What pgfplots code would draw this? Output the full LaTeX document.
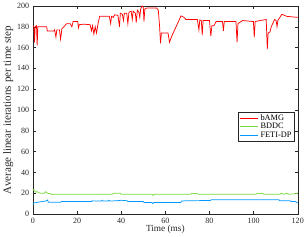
\documentclass[border=0pt]{standalone}
\usepackage{fontspec}
\setmainfont{Liberation Serif}
\usepackage{pgfplots}
\pgfplotsset{compat=1.18}
\definecolor{cred}{rgb}{1,0,0}
\definecolor{cgreen}{rgb}{0.47,0.86,0.22}
\definecolor{cblue}{rgb}{0.0,0.6,1.0}
\definecolor{axgray}{rgb}{0.15,0.15,0.15}
\begin{document}
\begin{tikzpicture}
\begin{axis}[
  scale only axis,
  width=271bp, height=213bp,
  xmin=0, xmax=120, ymin=0, ymax=200,
  xtick={0,20,...,120}, ytick={0,20,...,200},
  tick align=inside,
  major tick length=3bp,
  axis line style={axgray, line width=0.4pt},
  every tick/.style={axgray, line width=0.4pt},
  tick label style={font=\fontsize{8.2bp}{9bp}\selectfont, text=axgray},
  xticklabel style={yshift=-0.5bp},
  yticklabel style={xshift=-0.5bp},
  /pgf/number format/assume math mode=true,
  xlabel={Time (ms)},
  ylabel={Average linear iterations per time step},
  xlabel style={font=\fontsize{9.5bp}{10bp}\selectfont, text=axgray, yshift=5bp},
  ylabel style={font=\fontsize{11.3bp}{12bp}\selectfont, text=axgray, yshift=-3bp},
  legend style={at={(0.988,0.492)}, anchor=north east, draw=axgray, line width=0.4pt,
    font=\fontsize{8.5bp}{9bp}\selectfont, inner sep=1pt, row sep=-2.6pt},
  legend cell align=left,
  legend image code/.code={\draw[#1] (0bp,0bp) -- (19bp,0bp);},
]
\addplot[cred, line width=0.75pt] coordinates {
(0,181) (0.4,180) (0.7,165) (1.0,180) (1.6,181) (1.9,162) (2.2,180) (4.0,180) (6.2,180)
(6.5,176) (9.5,176) (9.8,177) (10.4,170) (10.8,177) (12.0,177) (12.5,168) (13.1,178)
(14.0,180) (15.3,183) (16.9,183) (17.6,180) (18.2,185) (19.7,185) (20.3,185) (20.6,179)
(21.0,182) (22.8,182.5) (25.9,182) (26.5,176) (27.0,181) (27.6,173) (28.2,180) (28.8,174)
(29.4,182) (30.2,190) (34.6,190) (35.2,183) (35.6,190) (36.4,189) (37.0,191.5) (38.5,191)
(39.2,180) (39.6,193) (40.5,192) (41.0,186) (41.4,193) (42.5,193) (43.0,183) (43.5,194)
(44.5,195) (45.0,187) (45.4,195) (46.4,193) (46.8,184) (47.3,196) (48.0,194) (48.4,189)
(48.8,197) (49.4,200) (50.0,199) (50.3,185) (50.7,197) (51.6,198) (56.0,198) (56.8,196)
(57.4,180) (57.8,164) (58.2,174) (61.2,174) (61.9,165) (62.7,170) (67.1,190.5) (68.5,189)
(69.3,187) (74.5,187) (75.2,177) (75.6,186.5) (76.3,186) (76.7,172) (77.1,186) (80.0,186)
(80.6,171) (81.1,181) (82.0,181) (83.0,185) (85.9,185) (86.3,176) (86.7,185) (92.0,185)
(92.5,165) (92.9,183) (95.0,186) (99.9,185) (100.3,170) (100.7,185) (103.0,186) (105.7,187)
(106.2,158.5) (106.6,174) (107.4,175) (108.0,180) (109.5,187) (110.2,186) (110.6,180)
(111.0,186) (112.8,192) (115.0,190) (120.0,189)
};
\addlegendentry{bAMG}
\addplot[cgreen, line width=0.75pt] coordinates {
(0,22.8) (0.4,23.5) (1.0,21) (1.8,21.6) (2.6,20.5) (3.5,20) (5.0,20) (5.8,21.5) (6.6,20)
(8.0,19.5) (8.8,18.5) (9.2,19) (36.0,19) (36.5,20) (39.5,20) (40,19) (54.0,19) (54.5,17.8)
(55.0,19) (71.5,19) (72.0,20) (73.0,19.5) (74.0,20) (75.0,19) (101.0,19) (101.5,20)
(103.0,19.5) (104.0,20) (104.5,19) (112.0,19) (112.5,20) (113.5,19) (115.0,20) (116,19)
(119.0,19.5) (120,20)
};
\addlegendentry{BDDC}
\addplot[cblue, line width=0.75pt] coordinates {
(0,9) (0.3,10.5) (1.5,11) (2.5,11.5) (4.2,12) (5.8,12.5) (6.6,13.5) (7.0,11.3) (12.5,11.3)
(12.8,12) (26.5,12) (26.8,12.8) (27.5,12.5) (31.0,12.5) (31.3,13.3) (31.8,12.5) (34.0,12.5)
(34.3,13.3) (34.8,12.5) (38,12.8) (40,13.2) (42.7,12.8) (43,12) (50,12) (50.3,11.2)
(53.8,11.2) (54.3,10) (54.8,11) (67.0,11) (67.3,12.5) (70,12.8) (80.4,13) (80.8,13.8)
(111.4,13.8) (111.8,12.8) (116.5,12.8) (117,12) (119,12) (120,10.5)
};
\addlegendentry{FETI-DP}
\end{axis}
\end{tikzpicture}
\end{document}
